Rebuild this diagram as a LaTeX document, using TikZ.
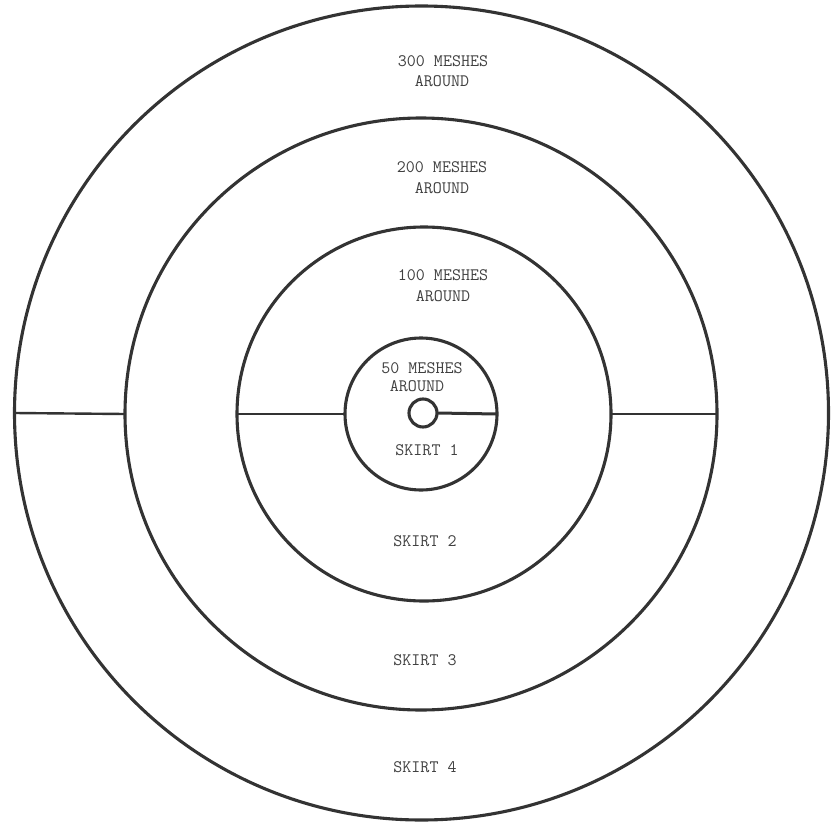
\documentclass[tikz,border=0pt]{standalone}
\usepackage{tikz}
\usetikzlibrary{positioning}

\begin{document}
\begin{tikzpicture}[x=1pt,y=-1pt,
  ring/.style={draw=black!80,circle,line width=3.1pt,inner sep=0pt,outer sep=0pt},
  cut/.style={black!80,line width=2.4pt},
  lbl/.style={text=black!75,inner sep=0pt,font=\ttfamily\fontsize{17.5}{20}\selectfont}]
  \useasboundingbox (0,0) rectangle (832,824);
  % ---------- rings, outer to inner
  \foreach \n/\x/\y/\r in {c1/421.5/413/407,c2/421/414/296,c3/424/414/187,c4/421/414/76,c5/423/413/14}
    \node[ring,minimum size=2*\r] (\n) at (\x,\y) {};
  % ---------- radial cuts
  \draw[cut] (c1.west) -- (c2.west);
  \draw[cut] (c3.west) -- (c4.west);
  \draw[cut,line width=3pt] (c5.east) -- (c4.east);
  \draw[cut] (c3.east) -- (c2.east);
  % ---------- labels
  \foreach \t/\x/\y [count=\i] in {300 MESHES/443/61,AROUND/442/81,
      200 MESHES/442/167,AROUND/442/188,100 MESHES/443/275,AROUND/443/296,
      50 MESHES/422/368,AROUND/417/386,SKIRT 1/427/450,SKIRT 2/425/541,
      SKIRT 3/425/660,SKIRT 4/425/767}
    \node[lbl] (t\i) at (\x,\y) {\t};
\end{tikzpicture}
\end{document}
